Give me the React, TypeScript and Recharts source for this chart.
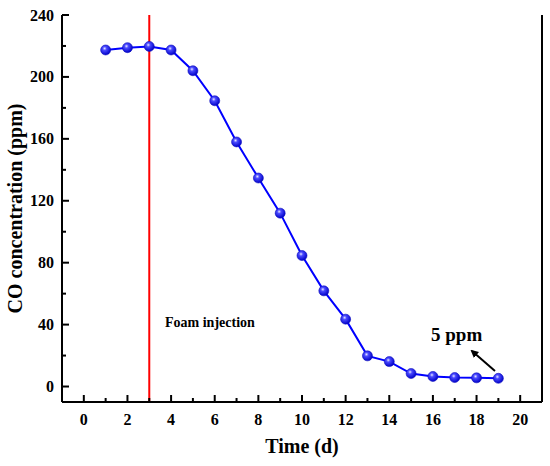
import { LineChart, Line, XAxis, YAxis, ReferenceLine, Label } from 'recharts';

// CO concentration measured each day
const days = [1, 2, 3, 4, 5, 6, 7, 8, 9, 10, 11, 12, 13, 14, 15, 16, 17, 18, 19];
const coPpm = [217.4, 218.9, 219.7, 217.4, 204, 184.6, 158, 134.7, 112, 84.6, 61.8, 43.5, 19.8, 16.1, 8.4, 6.5, 5.8, 5.6, 5.3];

const xTicks = [0, 1, 2, 3, 4, 5, 6, 7, 8, 9, 10, 11, 12, 13, 14, 15, 16, 17, 18, 19, 20];
const yTicks = [0, 20, 40, 60, 80, 100, 120, 140, 160, 180, 200, 220, 240];
const injectionDay = 3;

const data = days.map((d, i) => ({ day: d, co: coPpm[i] }));

const FONT = '"Liberation Serif", "Times New Roman", serif';

const XTick = (props: any) => {
  const { x, y, payload } = props;
  const major = payload.value % 2 === 0;
  return (
    <g>
      <line x1={x} x2={x} y1={y} y2={y - (major ? 7 : 4)} stroke="#000" strokeWidth={2} />
      {major && (
        <text x={x} y={y + 23} textAnchor="middle" fontFamily={FONT} fontWeight="bold" fontSize={16} fill="#000">
          {payload.value}
        </text>
      )}
    </g>
  );
};

const YTick = (props: any) => {
  const { x, y, payload } = props;
  const major = payload.value % 40 === 0;
  return (
    <g>
      <line x1={x} x2={x + (major ? 7 : 4)} y1={y} y2={y} stroke="#000" strokeWidth={2} />
      {major && (
        <text x={x - 8} y={y + 5.5} textAnchor="end" fontFamily={FONT} fontWeight="bold" fontSize={16} fill="#000">
          {payload.value}
        </text>
      )}
    </g>
  );
};

const Ball = (props: any) => {
  const { cx, cy, index } = props;
  if (cx == null || cy == null) return null;
  return <circle key={`dot-${index}`} cx={cx} cy={cy} r={5} fill="url(#ballGrad)" stroke="#1010c0" strokeWidth={0.6} />;
};

const App = () => {
  return (
    <div style={{ position: 'absolute', left: 0, top: 0, width: 550, height: 466, background: '#fff' }}>
      <LineChart width={550} height={466} data={data} margin={{ top: 15, right: 0, left: 0, bottom: 0 }}>
        <defs>
          <radialGradient id="ballGrad" cx="40%" cy="35%" r="65%">
            <stop offset="0%" stopColor="#e8e8ff" />
            <stop offset="30%" stopColor="#4a4aff" />
            <stop offset="100%" stopColor="#0000c8" />
          </radialGradient>
        </defs>
        <XAxis
          dataKey="day"
          type="number"
          domain={[-1, 21]}
          ticks={xTicks}
          interval={0}
          tick={<XTick />}
          tickLine={false}
          tickSize={0}
          tickMargin={0}
          height={64}
          axisLine={{ stroke: '#000', strokeWidth: 2 }}
        >
          <Label
            value="Time (d)"
            position="insideBottom"
            offset={13}
            style={{ fontFamily: FONT, fontWeight: 'bold', fontSize: 20, fill: '#000' }}
          />
        </XAxis>
        <XAxis
          xAxisId="top"
          orientation="top"
          type="number"
          domain={[-1, 21]}
          height={0}
          tick={false}
          tickLine={false}
          axisLine={{ stroke: '#000', strokeWidth: 2 }}
        />
        <YAxis
          type="number"
          domain={[-10, 240]}
          ticks={yTicks}
          interval={0}
          tick={<YTick />}
          tickLine={false}
          tickSize={0}
          tickMargin={0}
          width={62}
          axisLine={{ stroke: '#000', strokeWidth: 2 }}
        >
          <Label
            value="CO concentration (ppm)"
            angle={-90}
            position="insideLeft"
            offset={15}
            style={{ fontFamily: FONT, fontWeight: 'bold', fontSize: 20, fill: '#000', textAnchor: 'middle' }}
          />
        </YAxis>
        <YAxis
          yAxisId="right"
          orientation="right"
          type="number"
          domain={[-10, 240]}
          width={8}
          tick={false}
          tickLine={false}
          axisLine={{ stroke: '#000', strokeWidth: 2 }}
        />
        <ReferenceLine x={injectionDay} stroke="#ff0000" strokeWidth={2} />
        <Line
          type="linear"
          dataKey="co"
          stroke="#0000ff"
          strokeWidth={2}
          dot={<Ball />}
          activeDot={false}
          isAnimationActive={false}
        />
      </LineChart>
      <svg width={550} height={466} style={{ position: 'absolute', left: 0, top: 0, pointerEvents: 'none' }}>
        <defs>
          <marker id="arrowHead" markerWidth="8" markerHeight="8" refX="6" refY="4" orient="auto" markerUnits="userSpaceOnUse">
            <path d="M0,0 L8,4 L0,8 Z" fill="#000" />
          </marker>
        </defs>
        <text x={165} y={327} fontFamily={FONT} fontWeight="bold" fontSize={14} fill="#000">
          Foam injection
        </text>
        <text x={431} y={341} fontFamily={FONT} fontWeight="bold" fontSize={19} fill="#000">
          5 ppm
        </text>
        <line x1={495} y1={371} x2={472} y2={351} stroke="#000" strokeWidth={2} markerEnd="url(#arrowHead)" />
      </svg>
    </div>
  );
};

export default App;
